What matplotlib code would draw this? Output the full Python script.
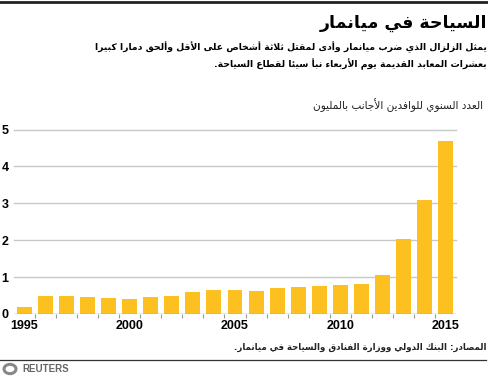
import numpy as np
import matplotlib
matplotlib.use('Agg')
import matplotlib.pyplot as plt
from matplotlib.lines import Line2D
from matplotlib.patches import Circle

# data
years = list(range(1995, 2016))
arrivals = [0.18, 0.49, 0.49, 0.47, 0.43, 0.41, 0.47, 0.49, 0.60, 0.66, 0.66,
            0.63, 0.71, 0.73, 0.76, 0.79, 0.82, 1.06, 2.04, 3.08, 4.68]
yticks = [0, 1, 2, 3, 4, 5]
xlabels = [1995, 2000, 2005, 2010, 2015]

title = "السياحة في ميانمار"
sub1 = "يمثل الزلزال الذي ضرب ميانمار وأدى لمقتل ثلاثة أشخاص على الأقل وألحق دمارا كبيرا"
sub2 = "بعشرات المعابد القديمة يوم الأربعاء نبأ سيئا لقطاع السياحة."
ytitle = "العدد السنوي للوافدين الأجانب بالمليون"
source = "المصادر: البنك الدولي ووزارة الفنادق والسياحة في ميانمار."

# --- simple arabic shaping (matplotlib has no shaping / bidi) ---
counts = [('\u0621', 1), ('\u0622', 2), ('\u0623', 2), ('\u0624', 2), ('\u0625', 2),
          ('\u0626', 4), ('\u0627', 2), ('\u0628', 4), ('\u0629', 2), ('\u062A', 4),
          ('\u062B', 4), ('\u062C', 4), ('\u062D', 4), ('\u062E', 4), ('\u062F', 2),
          ('\u0630', 2), ('\u0631', 2), ('\u0632', 2), ('\u0633', 4), ('\u0634', 4),
          ('\u0635', 4), ('\u0636', 4), ('\u0637', 4), ('\u0638', 4), ('\u0639', 4),
          ('\u063A', 4), ('\u0641', 4), ('\u0642', 4), ('\u0643', 4), ('\u0644', 4),
          ('\u0645', 4), ('\u0646', 4), ('\u0647', 4), ('\u0648', 2), ('\u0649', 2),
          ('\u064A', 4)]
forms = {}
code = 0xFE80
for ch, n in counts:
    forms[ch] = [chr(code + k) for k in range(n)]
    code += n
lamalef = {'\u0622': ['\uFEF5', '\uFEF6'], '\u0623': ['\uFEF7', '\uFEF8'],
           '\u0625': ['\uFEF9', '\uFEFA'], '\u0627': ['\uFEFB', '\uFEFC']}


def ar(text):
    units = []
    i = 0
    while i < len(text):
        c = text[i]
        if c == '\u0644' and i + 1 < len(text) and text[i + 1] in lamalef:
            units.append(lamalef[text[i + 1]])
            i += 2
        else:
            units.append(forms[c] if c in forms else c)
            i += 1
    out = []
    for k, u in enumerate(units):
        if isinstance(u, str):
            out.append(u)
            continue
        prev = units[k - 1] if k > 0 else None
        nxt = units[k + 1] if k + 1 < len(units) else None
        pj = isinstance(prev, list) and len(prev) == 4 and len(u) > 1
        nj = len(u) == 4 and isinstance(nxt, list) and len(nxt) > 1
        if pj and nj:
            out.append(u[3])
        elif pj:
            out.append(u[1])
        elif nj:
            out.append(u[2])
        else:
            out.append(u[0])
    return ''.join(out)[::-1]


W, H = 489, 378
fig = plt.figure(figsize=(W / 100, H / 100), dpi=100)
fig.patch.set_facecolor('white')

ax = fig.add_axes([14 / W, 1 - 314 / H, 442 / W, 184.5 / H])
ax.bar(years, arrivals, width=0.71, color='#fcc020', zorder=3)
ax.set_xlim(1994.5, 2015.5)
ax.set_ylim(0, 5)
for v in yticks[1:]:
    ax.axhline(v, color='#c8c8c8', lw=1, zorder=1, clip_on=False)
ax.axhline(0, color='#9a9a9a', lw=1, zorder=4)
for s in ax.spines.values():
    s.set_visible(False)
ax.set_yticks(yticks)
ax.set_yticklabels([str(v) for v in yticks], fontsize=9, fontweight='bold',
                   family='Liberation Sans')
ax.tick_params(axis='y', length=0, pad=4)
ax.set_xticks(xlabels)
ax.set_xticklabels([str(v) for v in xlabels], fontsize=9, fontweight='bold',
                   family='Liberation Sans')
ax.tick_params(axis='x', length=0, pad=4)
ax.set_xticks(np.arange(1995.5, 2015, 1), minor=True)
ax.tick_params(axis='x', which='minor', length=3, color='#9a9a9a', width=0.8)

# text
arfont = 'DejaVu Sans'
fig.text(487 / W, 1 - 23 / H, ar(title), ha='right', va='center', fontsize=12.5,
         fontweight='bold', family=arfont)
fig.text(487 / W, 1 - 47 / H, ar(sub1), ha='right', va='center', fontsize=6.7,
         fontweight='bold', family=arfont)
fig.text(487 / W, 1 - 64 / H, ar(sub2), ha='right', va='center', fontsize=6.7,
         fontweight='bold', family=arfont)
fig.text(483 / W, 1 - 105 / H, ar(ytitle), ha='right', va='center', fontsize=7.6,
         family=arfont, color='#222222')
fig.text(487 / W, 1 - 347 / H, ar(source), ha='right', va='center', fontsize=6.2,
         fontweight='bold', family=arfont, color='#222222')

# frame lines
fig.add_artist(Line2D([0, 1], [1 - 1.5 / H, 1 - 1.5 / H], color='#222222', lw=2))
fig.add_artist(Line2D([0, 486 / W], [1 - 360 / H, 1 - 360 / H], color='#333333', lw=0.9))

# reuters mark
fig.add_artist(Circle((10 / W, 1 - 369 / H), 6 / W, transform=fig.transFigure,
                      facecolor='none', edgecolor='#888888', lw=2.2))
fig.text(22 / W, 1 - 369 / H, 'REUTERS', ha='left', va='center', fontsize=7,
         fontweight='bold', family='Liberation Sans', color='#666666')

fig.savefig('out.png', dpi=100)
